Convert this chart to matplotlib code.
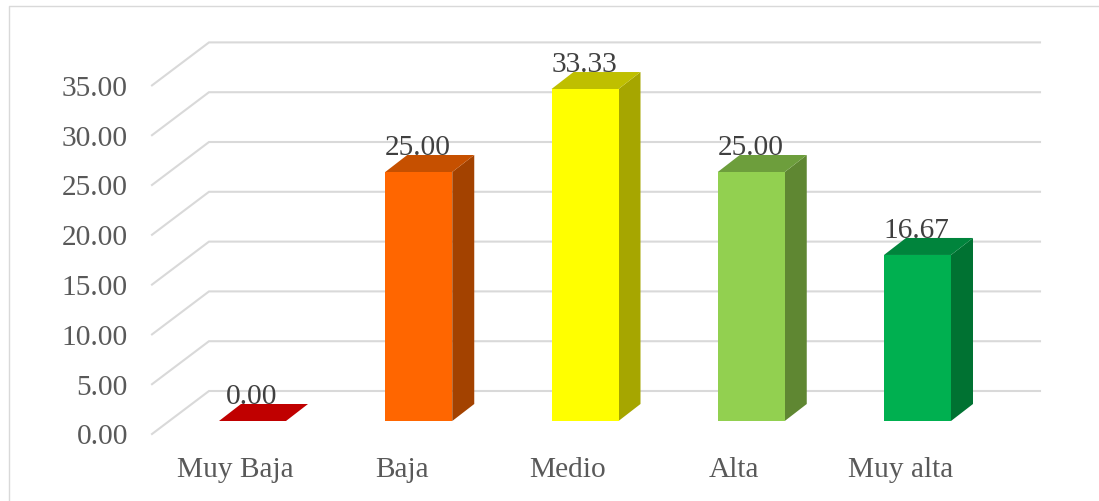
import matplotlib
matplotlib.use("Agg")
import matplotlib.pyplot as plt
from matplotlib.patches import Polygon, Rectangle

categories = ["Muy Baja", "Baja", "Medio", "Alta", "Muy alta"]
values = [0.00, 25.00, 33.33, 25.00, 16.67]
y_ticks = [0, 5, 10, 15, 20, 25, 30, 35]
front_colors = ["#C00000", "#FF6600", "#FFFF00", "#92D050", "#00B050"]
top_colors = ["#C00000", "#C65000", "#BFBF00", "#6D9E3C", "#00843C"]
side_colors = ["#8F0000", "#A34200", "#A6A600", "#5F8732", "#007232"]

W, H = 1099, 502
X0, STEP = 252.5, 166.25    # px of first bar centre, px per category
Y0, UNIT = 422.0, 9.96      # px of value 0 at bar front, px per value unit
BAR_W = 67 / STEP
DX, DY = 22 / STEP, 17 / UNIT      # bar depth
WALL_DY = 30 / UNIT                # back wall lift above bar baseline
GRID_L, GRID_B, GRID_R = (152 - X0) / STEP, (209 - X0) / STEP, (1040 - X0) / STEP
FLOOR_DY = 13 / UNIT

plt.rcParams["font.family"] = ["Liberation Serif", "DejaVu Serif"]

fig = plt.figure(figsize=(W / 100, H / 100), dpi=100)
ax = fig.add_axes([0, 0, 1, 1])
ax.set_xlim(-X0 / STEP, (W - X0) / STEP)
ax.set_ylim((Y0 - H) / UNIT, Y0 / UNIT)
ax.axis("off")

# outer chart frame, only top and left edges are in the crop
frame_x, frame_y = (8.5 - X0) / STEP, (Y0 - 6.5) / UNIT
ax.plot([frame_x, frame_x, (W - X0) / STEP], [(Y0 - H) / UNIT, frame_y, frame_y],
        color="#D9D9D9", lw=1.0, zorder=1)

# slanted gridlines, side wall then back wall
for v in y_ticks:
    ax.plot([GRID_L, GRID_B, GRID_R],
            [v - FLOOR_DY, v + WALL_DY, v + WALL_DY],
            color="#D9D9D9", lw=1.5, zorder=1, solid_joinstyle="miter")
    ax.text((128 - X0) / STEP, v - FLOOR_DY - 0.25, f"{v:.2f}", ha="right", va="center",
            fontsize=21.2, color="#595959")

for i, (name, val) in enumerate(zip(categories, values)):
    l, r = i - BAR_W / 2, i + BAR_W / 2
    ax.add_patch(Polygon([(r, 0), (r + DX, DY), (r + DX, val + DY), (r, val)],
                         fc=side_colors[i], ec="none", zorder=2))
    ax.add_patch(Polygon([(l, val), (r, val), (r + DX, val + DY), (l + DX, val + DY)],
                         fc=top_colors[i], ec="none", zorder=3))
    ax.add_patch(Rectangle((l, 0), BAR_W, val, fc=front_colors[i], ec="none", zorder=3))
    ax.text(i - 0.005, val + 2.5, f"{val:.2f}", ha="center", va="center",
            fontsize=21.2, color="#404040", zorder=4)
    ax.text(i - 0.102, -4.85, name, ha="center", va="center",
            fontsize=21.2, color="#595959")

fig.savefig("out.png", dpi=100, facecolor="white")
